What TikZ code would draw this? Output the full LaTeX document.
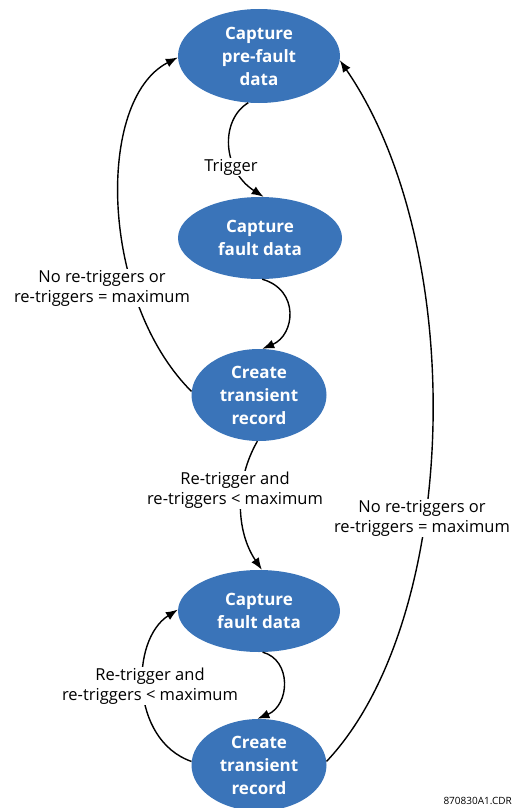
\documentclass[tikz,border=0pt]{standalone}
\usepackage{fontspec}
\setmainfont{Open Sans}
\usepackage{tikz}
\usetikzlibrary{positioning,arrows.meta,shapes.geometric}
\definecolor{stagefill}{HTML}{3A74B9}

\tikzset{
  stage/.style={ellipse,fill=stagefill,text=white,align=center,inner sep=0pt,
                font=\fontsize{17}{23}\selectfont\bfseries},
  cond/.style={fill=white,align=center,inner sep=1pt,
               font=\fontsize{16.5}{20}\selectfont},
  flow/.style={line width=1.4pt,-{Latex[length=12pt,width=9pt]}}
}

\begin{document}
\begin{tikzpicture}[x=1pt,y=-1pt]
  \useasboundingbox (0,0) rectangle (514,808);

  \node[stage,minimum width=162pt,minimum height=94pt] (pre)    at (259,56)  {Capture\\pre-fault\\data};
  \node[stage,minimum width=164pt,minimum height=82pt] (fault1) at (260,238) {Capture\\fault data};
  \node[stage,minimum width=135pt,minimum height=92pt] (rec1)   at (259,395) {Create\\transient\\record};
  \node[stage,minimum width=162pt,minimum height=82pt] (fault2) at (259,611) {Capture\\fault data};
  \node[stage,minimum width=135pt,minimum height=92pt] (rec2)   at (259,765) {Create\\transient\\record};

  \draw[flow] (pre.-103) .. controls (220,120) and (222,170) .. (fault1.85);
  \draw[flow] (fault1.-87) .. controls (300,290) and (295,335) .. (rec1.86);
  \draw[flow] (rec1.177) .. controls (100,300) and (95,100) .. (pre.181);
  \draw[flow] (rec1.-92) .. controls (235,480) and (235,530) .. (fault2.86);
  \draw[flow] (fault2.-85) .. controls (292,660) and (290,705) .. (rec2.92);
  \draw[flow] (rec2.177) .. controls (130,740) and (130,640) .. (fault2.179);
  \draw[flow] (rec2.3) .. controls (460,620) and (470,250) .. (pre.-3);

  \node[cond] (trig)  at (231,167) {Trigger};
  \node[cond] (max1)  at (102,288) {No re-triggers or\\re-triggers = maximum};
  \node[cond] (retr1) at (235,490) {Re-trigger and\\re-triggers < maximum};
  \node[cond] (max2)  at (422,518) {No re-triggers or\\re-triggers = maximum};
  \node[cond] (retr2) at (150,686) {Re-trigger and\\re-triggers < maximum};

  \node[anchor=east,inner sep=0pt,font=\fontsize{10}{12}\selectfont] (code) at (512,801) {870830A1.CDR};
\end{tikzpicture}
\end{document}
